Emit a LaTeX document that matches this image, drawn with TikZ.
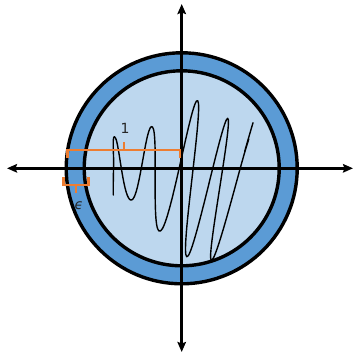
\documentclass[tikz,border=0pt]{standalone}
\usepackage{fontspec}
\setmainfont{DejaVu Sans}
\usepackage{xcolor}
\usepackage{tikz}
\usetikzlibrary{arrows.meta,calc}
\definecolor{cRing}{HTML}{5B9BD5}
\definecolor{cDisk}{HTML}{BDD7EE}
\definecolor{cBrace}{HTML}{ED7D31}
\definecolor{cText}{HTML}{262626}
\tikzset{
  ring/.style={draw=black, line width=3.4pt, fill=#1},
  axis/.style={{Stealth[length=10pt,width=8.5pt,inset=1.5pt]}-{Stealth[length=10pt,width=8.5pt,inset=1.5pt]}, line width=2.6pt},
  brace/.style={draw=cBrace, line width=2.8pt, line join=miter},
  squiggle/.style={line width=1.4pt, line join=round, line cap=round},
  lbl/.style={text=cText, font=\fontsize{14}{16}\selectfont, inner sep=0pt},
}
\begin{document}
\begin{tikzpicture}[x=1pt, y=-1pt]
\useasboundingbox (0,0) rectangle (355,354);
\coordinate (O) at (181.7,168.3);
% disk and the epsilon ring
\draw[ring=cRing] (O) circle[radius=115.5];
\draw[ring=cDisk] (O) circle[radius=97.5];
% the curve
\draw[squiggle] plot[smooth, tension=0.8] coordinates {
  (113.3,195) (113.6,168) (115.5,138) (131.7,200) (152.5,127) (160.5,231)
  (197.7,100.7) (186.7,256.7) (227.7,118.3) (211,260) (246,148) (244.8,151) (253,122.7)};
% axes
\coordinate (W) at (7,168.3); \coordinate (E) at (353,168.3);
\coordinate (N) at (181.7,4); \coordinate (S) at (181.7,352);
\draw[axis] (W) -- (E);
\draw[axis] (S) -- (N);
% braces
\draw[brace] (67.7,158) -- (67.7,150) -- (180,150) -- (180,158);
\draw[brace] (124,150) -- (124,142);
\draw[brace] (63.3,177) -- (63.3,185) -- (88.3,185) -- (88.3,177);
\draw[brace] (76,185) -- (76,193);
\node[lbl] (one) at (125,128) {1};
\node[lbl] (eps) at (79,205.5) {\itshape ϵ};
\end{tikzpicture}
\end{document}
